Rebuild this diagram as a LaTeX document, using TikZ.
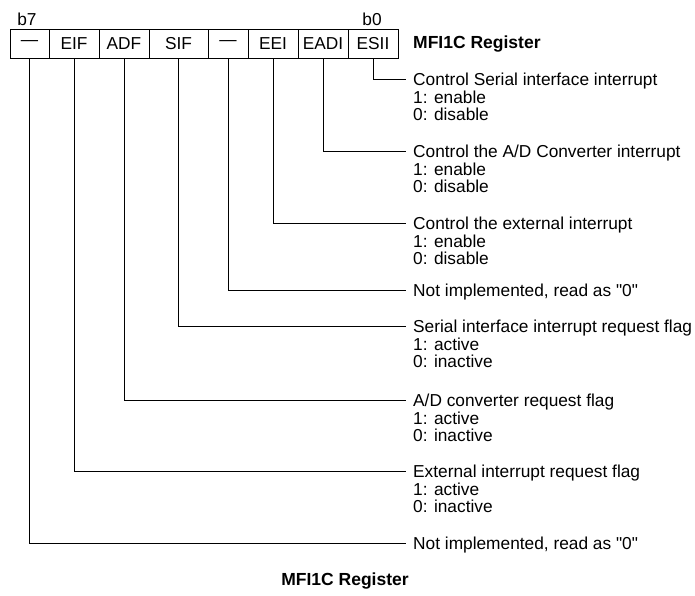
\documentclass[tikz,border=0pt]{standalone}
\usepackage{fontspec}
\setmainfont{Liberation Sans}[Ligatures=TeXOff]
\begin{document}
\begin{tikzpicture}[x=1pt,y=-1pt,
  every node/.style={font=\fontsize{17.3}{17.5}\selectfont, inner sep=0pt},
  cell/.style={draw, line width=0.9pt, minimum height=29pt, anchor=center},
  desc/.style={anchor=north west, align=left},
  conn/.style={line width=0.9pt},
  title/.style={font=\fontsize{17.5}{18}\selectfont\bfseries}]
\useasboundingbox (0,0) rectangle (695,595);
% register cells
\node[cell, minimum width=39pt] (c7) at (29.5,43.5) {—};
\node[cell, minimum width=50pt] (c6) at (74,43.5) {EIF};
\node[cell, minimum width=50pt] (c5) at (124,43.5) {ADF};
\node[cell, minimum width=59pt] (c4) at (178.5,43.5) {SIF};
\node[cell, minimum width=40pt] (c3) at (228,43.5) {—};
\node[cell, minimum width=50pt] (c2) at (273,43.5) {EEI};
\node[cell, minimum width=50pt] (c1) at (323,43.5) {EADI};
\node[cell, minimum width=50pt] (c0) at (373,43.5) {ESII};
\node (b7) at (27,19) {b7};
\node (b0) at (372,19) {b0};
\node[title, anchor=west] (reg) at (413,44) {MFI1C Register};
% descriptions
\node[desc] (d0) at (413,73) {Control Serial interface interrupt\\1: enable\\0: disable};
\node[desc] (d1) at (413,145) {Control the A/D Converter interrupt\\1: enable\\0: disable};
\node[desc] (d2) at (413,217) {Control the external interrupt\\1: enable\\0: disable};
\node[desc] (d3) at (413,284) {Not implemented, read as "0"};
\node[desc] (d4) at (413,320) {Serial interface interrupt request flag\\1: active\\0: inactive};
\node[desc] (d5) at (413,394) {A/D converter request flag\\1: active\\0: inactive};
\node[desc] (d6) at (413,465) {External interrupt request flag\\1: active\\0: inactive};
\node[desc] (d7) at (413,537) {Not implemented, read as "0"};
% connectors
\foreach \i in {0,...,7}{
  \draw[conn] (c\i.south) |- ([xshift=-7pt,yshift=-6pt]d\i.north west);
}
\node[title] (cap) at (345,581) {MFI1C Register};
\end{tikzpicture}
\end{document}
